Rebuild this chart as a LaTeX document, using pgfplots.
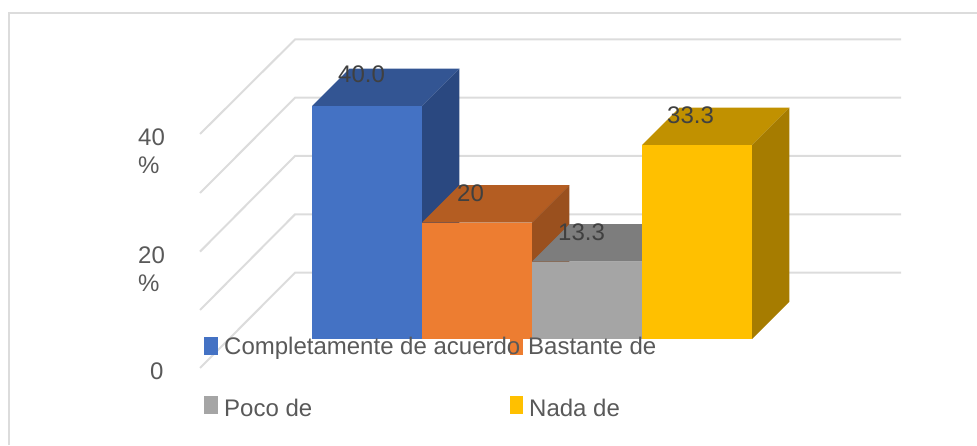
\documentclass[border=0pt]{standalone}
\usepackage{fontspec}
\setmainfont{Liberation Sans}
\usepackage{pgfplots}
\pgfplotsset{compat=1.18}
\definecolor{gridc}{HTML}{DCDCDC}
\definecolor{txt}{HTML}{595959}
\definecolor{vtxt}{HTML}{404040}
\definecolor{blueF}{HTML}{4472C4}
\definecolor{blueT}{HTML}{335593}
\definecolor{blueS}{HTML}{2A4880}
\definecolor{oranF}{HTML}{ED7D31}
\definecolor{oranT}{HTML}{B45D22}
\definecolor{oranS}{HTML}{9A501E}
\definecolor{grayF}{HTML}{A5A5A5}
\definecolor{grayT}{HTML}{7D7D7D}
\definecolor{yellF}{HTML}{FFC000}
\definecolor{yellT}{HTML}{C19100}
\definecolor{yellS}{HTML}{A67C00}
% text placed by pixel position of the baseline
\newcommand{\lbl}[4]{\node[anchor=base west,inner sep=0pt,text=#1,font=\fontsize{24}{28}\selectfont] at (#2pt,445pt-#3pt) {#4};}
\begin{document}
\begin{tikzpicture}
\useasboundingbox (0,0) rectangle (977pt,445pt);
\draw[gridc,line width=2pt] (9pt,0) -- (9pt,432pt) -- (977pt,432pt);
\begin{axis}[
    at={(0,0)},anchor=south west,
    scale only axis,
    width=977pt,height=445pt,
    hide axis,
    xmin=-2.8364,xmax=6.0455,
    ymin=-18.197,ymax=58.197,
]
% walls
\addplot[gridc,line width=2pt] coordinates {(-1.018,35.19) (-0.1545,51.42) (5.3545,51.42)};
\addplot[gridc,line width=2pt] coordinates {(-1.018,25.06) (-0.1545,41.43) (5.3545,41.43)};
\addplot[gridc,line width=2pt] coordinates {(-1.018,15.0) (-0.1545,31.42) (5.3545,31.42)};
\addplot[gridc,line width=2pt] coordinates {(-1.018,4.98) (-0.1545,21.4) (5.3545,21.4)};
\addplot[gridc,line width=2pt] coordinates {(-1.018,-4.98) (-0.1545,11.38) (5.3545,11.38)};
% Completamente de acuerdo = 40.0
\addplot[fill=blueT,draw=none] coordinates {(0,40) (0.339,46.4) (1.339,46.4) (1,40)} --cycle;
\addplot[fill=blueS,draw=none] coordinates {(1,0) (1.339,6.4) (1.339,46.4) (1,40)} --cycle;
\addplot[fill=blueF,draw=none] coordinates {(0,0) (0,40) (1,40) (1,0)} --cycle;
% Bastante de = 20
\addplot[fill=oranT,draw=none] coordinates {(1,20) (1.339,26.4) (2.339,26.4) (2,20)} --cycle;
\addplot[fill=oranS,draw=none] coordinates {(2,0) (2.339,6.4) (2.339,26.4) (2,20)} --cycle;
\addplot[fill=oranF,draw=none] coordinates {(1,0) (1,20) (2,20) (2,0)} --cycle;
% Poco de = 13.3
\addplot[fill=grayT,draw=none] coordinates {(2,13.3) (2.339,19.7) (3.339,19.7) (3,13.3)} --cycle;
\addplot[fill=grayF,draw=none] coordinates {(2,0) (2,13.3) (3,13.3) (3,0)} --cycle;
% Nada de = 33.3
\addplot[fill=yellT,draw=none] coordinates {(3,33.3) (3.339,39.7) (4.339,39.7) (4,33.3)} --cycle;
\addplot[fill=yellS,draw=none] coordinates {(4,0) (4.339,6.4) (4.339,39.7) (4,33.3)} --cycle;
\addplot[fill=yellF,draw=none] coordinates {(3,0) (3,33.3) (4,33.3) (4,0)} --cycle;
% legend swatches
\addplot[fill=blueF,draw=none] coordinates {(-0.982,0.34) (-0.855,0.34) (-0.855,-2.75) (-0.982,-2.75)} --cycle;
\addplot[fill=oranF,draw=none] coordinates {(1.8,0.34) (1.918,0.34) (1.918,-2.75) (1.8,-2.75)} --cycle;
\addplot[fill=grayF,draw=none] coordinates {(-0.982,-9.79) (-0.855,-9.79) (-0.855,-12.88) (-0.982,-12.88)} --cycle;
\addplot[fill=yellF,draw=none] coordinates {(1.8,-9.79) (1.918,-9.79) (1.918,-12.88) (1.8,-12.88)} --cycle;
\end{axis}
% tick labels
\lbl{txt}{138}{146}{40}
\lbl{txt}{138}{174}{\%}
\lbl{txt}{138}{263}{20}
\lbl{txt}{138}{291}{\%}
\lbl{txt}{150}{379}{0}
% value labels
\lbl{vtxt}{338}{83}{40.0}
\lbl{vtxt}{457}{201.5}{20}
\lbl{vtxt}{558}{240.5}{13.3}
\lbl{vtxt}{667}{124}{33.3}
% legend
\lbl{txt}{224}{354}{Completamente de acuerdo}
\lbl{txt}{528}{354}{Bastante de}
\lbl{txt}{224}{416}{Poco de}
\lbl{txt}{529}{416}{Nada de}
\end{tikzpicture}
\end{document}
